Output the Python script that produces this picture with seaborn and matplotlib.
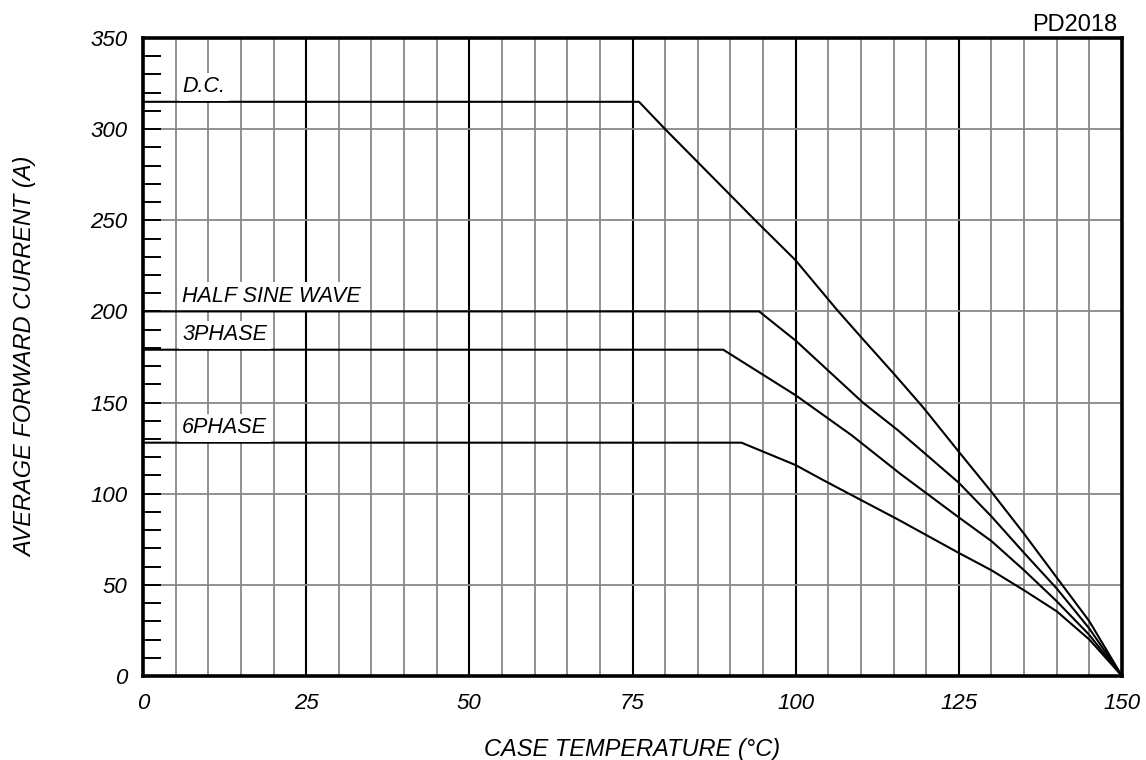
import pandas as pd
import matplotlib
matplotlib.use('Agg')
import matplotlib.pyplot as plt
import seaborn as sns
from matplotlib.ticker import MultipleLocator

# derating curves
series_names = ['D.C.', 'HALF SINE WAVE', '3PHASE', '6PHASE']

dc_temp = [0, 76, 80, 93.8, 100, 106.3, 110, 115, 119.5, 125, 130, 135, 140, 145, 150]
dc_current = [315, 315, 300, 250, 228, 201, 186, 166, 147.5, 123, 101, 78, 54, 30, 0]

half_temp = [0, 94.4, 100, 110.3, 115.6, 119.5, 125, 130, 135, 140, 145, 150]
half_current = [200, 200, 184, 150, 135, 123, 106, 87.5, 67.5, 48, 26, 0]

ph3_temp = [0, 88.9, 100, 108.6, 116, 125, 130, 135, 140, 145, 150]
ph3_current = [179, 179, 154, 132, 111, 87, 74, 58, 41, 22.5, 0]

ph6_temp = [0, 91.7, 100, 104.2, 115.6, 125, 130, 135, 140, 145, 150]
ph6_current = [128, 128, 115.7, 107.5, 86, 67.5, 58, 47, 35.5, 20, 0]

x_ticks = [0, 25, 50, 75, 100, 125, 150]
y_ticks = [0, 50, 100, 150, 200, 250, 300, 350]

frames = []
for name, t, c in zip(series_names,
                      [dc_temp, half_temp, ph3_temp, ph6_temp],
                      [dc_current, half_current, ph3_current, ph6_current]):
    frames.append(pd.DataFrame({'temp': t, 'current': c, 'series': name}))
df = pd.concat(frames, ignore_index=True)

sns.set_style('white')
plt.rcParams['font.family'] = ['Liberation Sans', 'DejaVu Sans']
plt.rcParams['text.color'] = 'black'
plt.rcParams['axes.labelcolor'] = 'black'
plt.rcParams['xtick.color'] = 'black'
plt.rcParams['ytick.color'] = 'black'

fig = plt.figure(figsize=(11.46, 7.6), dpi=100)
ax = fig.add_axes([143 / 1146, 84 / 760, 979 / 1146, 638 / 760])

sns.lineplot(data=df, x='temp', y='current', hue='series',
             palette={n: 'black' for n in series_names}, legend=False,
             linewidth=1.5, ax=ax, zorder=2)

ax.set_xlim(0, 150)
ax.set_ylim(0, 350)
ax.set_axisbelow(True)

ax.xaxis.set_major_locator(MultipleLocator(25))
ax.xaxis.set_minor_locator(MultipleLocator(5))
ax.yaxis.set_major_locator(MultipleLocator(50))
ax.yaxis.set_minor_locator(MultipleLocator(10))
ax.set_xticks(x_ticks)
ax.set_yticks(y_ticks)

ax.grid(which='major', axis='x', color='black', linewidth=1.5)
ax.grid(which='minor', axis='x', color='#888888', linewidth=1.3)
ax.grid(which='major', axis='y', color='#888888', linewidth=1.3)

ax.tick_params(axis='x', which='both', length=0, pad=12, labelsize=16, labelcolor='black')
ax.tick_params(axis='y', which='both', direction='in', length=13,
               width=1.4, color='black', pad=11, labelsize=16, labelcolor='black', left=True)
for lab in ax.get_xticklabels() + ax.get_yticklabels():
    lab.set_fontstyle('italic')

for side in ['left', 'bottom', 'top', 'right']:
    ax.spines[side].set_visible(True)
    ax.spines[side].set_color('black')
    ax.spines[side].set_linewidth(2.6)

ax.set_xlabel('CASE TEMPERATURE (°C)', fontsize=17, fontstyle='italic', color='black')
ax.set_ylabel('AVERAGE FORWARD CURRENT (A)', fontsize=17, fontstyle='italic', color='black')
ax.xaxis.set_label_coords(0.5, -0.097)
ax.yaxis.set_label_coords(-0.108, 0.5)

# curve labels sit just above the flat parts
for name, level in zip(series_names, [dc_current[0], half_current[0], ph3_current[0], ph6_current[0]]):
    ax.text(6, level + 2.5, name, fontsize=15.5, fontstyle='italic', ha='left', va='bottom',
            color='black', zorder=3, bbox=dict(facecolor='white', edgecolor='none', pad=2.5))

fig.text(1117 / 1146, 1 - 25 / 760, 'PD2018', fontsize=17, color='black', ha='right', va='center')

fig.savefig('out.png', dpi=100)
plt.close(fig)
